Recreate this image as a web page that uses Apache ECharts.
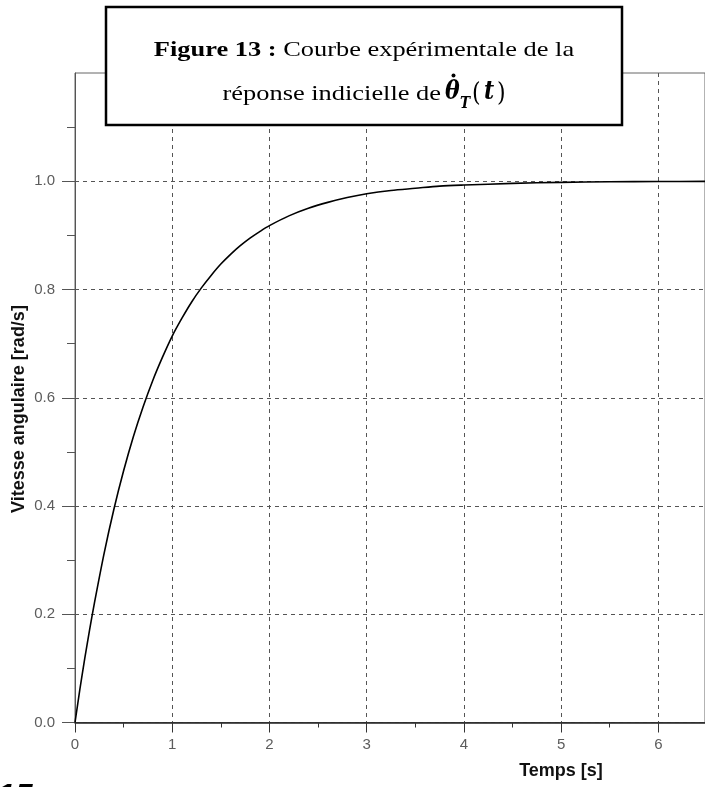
<!DOCTYPE html>
<html>
<head>
<meta charset="utf-8">
<script src="https://cdn.jsdelivr.net/npm/echarts@6/dist/echarts.min.js"></script>
<style>
  html, body { margin: 0; padding: 0; background: #fff; }
  #chart { width: 705px; height: 787px; }
</style>
</head>
<body>
<div id="chart"></div>
<script>
// Values
const timeS = [0, 0.05, 0.1, 0.15, 0.2, 0.3, 0.4, 0.5, 0.6, 0.7, 0.8, 0.9, 1.0, 1.1, 1.2, 1.3, 1.4, 1.5, 1.6, 1.7, 1.8, 1.9, 2.0, 2.2, 2.4, 2.6, 2.8, 3.0, 3.25, 3.5, 3.75, 4.0, 4.5, 5.0, 5.5, 6.0, 6.5];
const speed = [0, 0.061, 0.118, 0.171, 0.221, 0.313, 0.394, 0.465, 0.528, 0.583, 0.632, 0.675, 0.714, 0.747, 0.777, 0.803, 0.826, 0.847, 0.865, 0.881, 0.895, 0.907, 0.918, 0.936, 0.950, 0.961, 0.970, 0.977, 0.983, 0.987, 0.991, 0.993, 0.996, 0.998, 0.999, 0.9995, 0.9997];
const xTickLabels = [0, 1, 2, 3, 4, 5, 6];
const yTickLabels = [0, 0.2, 0.4, 0.6, 0.8, 1.0];
const xName = 'Temps [s]';
const yName = 'Vitesse angulaire [rad/s]';
const titleLine1 = 'Figure 13 :';
const titleLine1b = ' Courbe expérimentale de la';
const titleLine2 = 'réponse indicielle de';
const mathVar = '\u03B8';
const mathSub = 'T';
const mathArg = 't';
const pageNumber = '15';

const chart = echarts.init(document.getElementById('chart'));
const gridColor = '#555';
const labelFont = 'Liberation Sans, Arial, sans-serif';
const serif = 'Liberation Serif, Times New Roman, serif';
const mathFont = 'DejaVu Serif, Liberation Serif, serif';

function mathText(x, y, text, size, bold) {
  return {
    type: 'text', z: 101, x: x, y: y, scaleX: 0.85,
    style: {
      text: text, align: 'left', verticalAlign: 'middle',
      fontFamily: mathFont, fontSize: size,
      fontWeight: bold ? 'bold' : 'normal', fontStyle: bold ? 'italic' : 'normal',
      fill: '#000'
    }
  };
}

const option = {
  animation: false,
  backgroundColor: '#fff',
  grid: {
    left: 75, top: 73, right: -2, bottom: 64.5,
    show: true, borderColor: '#666', borderWidth: 1, backgroundColor: 'transparent'
  },
  xAxis: {
    type: 'value', min: 0, max: 6.48, interval: 1,
    axisLine: { show: true, onZero: false, lineStyle: { color: '#222', width: 1.5 } },
    axisTick: { show: true, length: 10, customValues: xTickLabels, lineStyle: { color: '#333', width: 1 } },
    minorTick: { show: true, splitNumber: 2, length: 5, lineStyle: { color: '#333', width: 1 } },
    axisLabel: {
      customValues: xTickLabels, margin: 15, color: '#5c5c5c',
      fontFamily: labelFont, fontSize: 15,
      formatter: v => String(Math.round(v))
    },
    splitLine: { show: true, lineStyle: { color: gridColor, type: [4, 4], width: 1 } }
  },
  yAxis: {
    type: 'value', min: 0, max: 1.2, interval: 0.2,
    axisLine: { show: true, lineStyle: { color: '#555', width: 1 } },
    axisTick: { show: true, length: 13, customValues: yTickLabels, lineStyle: { color: '#555', width: 1 } },
    minorTick: { show: true, splitNumber: 2, length: 8, lineStyle: { color: '#555', width: 1 } },
    axisLabel: {
      customValues: yTickLabels, margin: 20, color: '#5c5c5c',
      fontFamily: labelFont, fontSize: 15,
      formatter: v => v.toFixed(1)
    },
    splitLine: { show: true, lineStyle: { color: gridColor, type: [4, 4], width: 1 } }
  },
  series: [{
    type: 'line',
    data: timeS.map((t, i) => [t, speed[i]]),
    smooth: 0.3,
    showSymbol: false,
    lineStyle: { color: '#000', width: 1.6 },
    z: 5
  }],
  graphic: [
    {
      type: 'rect', z: 100,
      shape: { x: 106, y: 7, width: 516, height: 118 },
      style: { fill: '#fff', stroke: '#000', lineWidth: 2.5 }
    },
    {
      type: 'text', z: 101, x: 364, y: 50, scaleX: 1.2,
      style: {
        text: '{b|' + titleLine1 + '}{r|' + titleLine1b + '}',
        align: 'center', verticalAlign: 'middle',
        rich: {
          b: { fontFamily: serif, fontWeight: 'bold', fontSize: 22, fill: '#000' },
          r: { fontFamily: serif, fontSize: 22, fill: '#000' }
        }
      }
    },
    {
      type: 'text', z: 101, x: 441, y: 94.3, scaleX: 1.2,
      style: {
        text: titleLine2, align: 'right', verticalAlign: 'middle',
        fontFamily: serif, fontSize: 22, fill: '#000'
      }
    },
    mathText(445, 92.5, mathVar, 26, true),
    { type: 'circle', z: 102, shape: { cx: 453.5, cy: 75.5, r: 2 }, style: { fill: '#000' } },
    mathText(460, 103.5, mathSub, 16, true),
    mathText(472, 94, '(', 26, false),
    mathText(484, 92.5, mathArg, 26, true),
    mathText(497, 94, ')', 26, false),
    {
      type: 'text', z: 50, x: 561, y: 771,
      style: {
        text: xName, align: 'center', verticalAlign: 'middle',
        fontFamily: labelFont, fontWeight: 'bold', fontSize: 18, fill: '#111'
      }
    },
    {
      type: 'text', z: 50, x: 19, y: 409, rotation: Math.PI / 2,
      style: {
        text: yName, align: 'center', verticalAlign: 'middle',
        fontFamily: labelFont, fontWeight: 'bold', fontSize: 18, fill: '#111'
      }
    },
    {
      type: 'text', z: 50, x: -3, y: 797,
      style: {
        text: pageNumber, align: 'left', verticalAlign: 'middle',
        fontFamily: labelFont, fontWeight: 'bold', fontStyle: 'italic', fontSize: 32, fill: '#000'
      }
    }
  ]
};
chart.setOption(option);
</script>
</body>
</html>
